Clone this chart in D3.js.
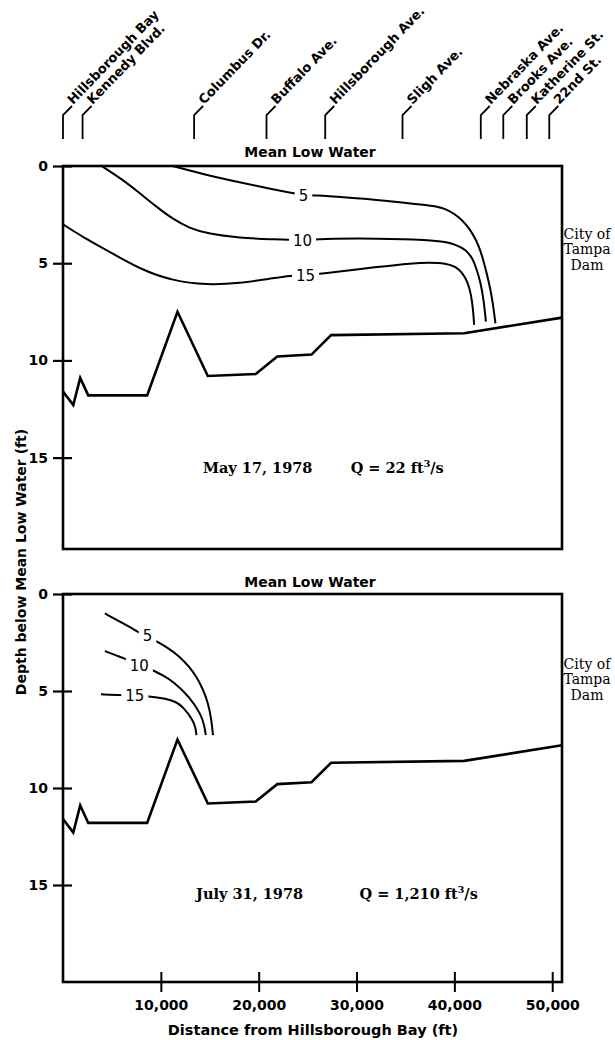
<!DOCTYPE html>
<html>
<head>
<meta charset="utf-8">
<script src="https://cdn.jsdelivr.net/npm/d3@7"></script>
<style>
  body { margin: 0; background: #fff; }
  svg { display: block; }
</style>
</head>
<body>
<svg id="chart" width="615" height="1040"></svg>
<script>
// Street crossings along the river (distance from Hillsborough Bay, ft)
const streetNames = ["Hillsborough Bay", "Kennedy Blvd.", "Columbus Dr.", "Buffalo Ave.",
  "Hillsborough Ave.", "Sligh Ave.", "Nebraska Ave.", "Brooks Ave.", "Katherine St.", "22nd St."];
const streetDistance = [0, 2000, 13400, 20800, 26800, 34700, 42700, 45000, 47400, 49700];

// Axis ticks
const depthTicks = [0, 5, 10, 15];
const distanceTicks = [10000, 20000, 30000, 40000, 50000];

// Channel bottom profile: [distance ft, depth ft]
const channelBottom = [[0, 11.6], [1050, 12.3], [1760, 10.9], [2580, 11.8], [8600, 11.8],
  [11700, 7.5], [14800, 10.8], [19700, 10.7], [21900, 9.8], [25400, 9.7], [27400, 8.7],
  [41000, 8.6], [51000, 7.8]];

// Salinity isolines, May 17, 1978: [distance ft, depth ft]
const may5 = [[11200, 0], [14650, 0.46], [18050, 0.84], [21450, 1.2], [23200, 1.37], [24580, 1.5],
  [25600, 1.5], [29000, 1.62], [32300, 1.75], [35500, 1.92], [37500, 2.03], [38700, 2.13],
  [39600, 2.33], [40400, 2.6], [41200, 3.0], [41900, 3.5], [42500, 4.1], [43000, 4.9],
  [43500, 5.9], [43900, 6.9], [44200, 8.1]];
const may10 = [[3950, 0], [6150, 0.72], [7850, 1.4], [9560, 2.1], [11250, 2.74], [12950, 3.2],
  [14650, 3.46], [18050, 3.7], [21450, 3.77], [24480, 3.84], [26200, 3.74], [32300, 3.72],
  [37400, 3.8], [39140, 3.9], [40160, 4.06], [41180, 4.3], [41850, 4.75], [42200, 5.2],
  [42700, 6.0], [43040, 7.06], [43220, 8.0]];
const may15 = [[0, 3.0], [2070, 3.67], [4450, 4.32], [7850, 5.31], [11250, 5.91], [14650, 6.12],
  [18050, 6.03], [21450, 5.77], [23300, 5.64], [24790, 5.62], [26200, 5.55], [32300, 5.18],
  [35700, 5.0], [37400, 4.97], [39140, 5.0], [40160, 5.18], [40830, 5.5], [41340, 5.95],
  [41690, 6.55], [41920, 7.4], [42020, 8.17]];

// Salinity isolines, July 31, 1978
const jul5 = [[4280, 1.0], [5800, 1.42], [7340, 1.86], [8640, 2.2], [9620, 2.46], [10800, 2.8],
  [11930, 3.23], [12900, 3.75], [13640, 4.26], [14300, 4.9], [14820, 5.6], [15150, 6.4], [15330, 7.27]];
const jul10 = [[4280, 2.94], [5500, 3.18], [6660, 3.4], [7800, 3.7], [9150, 3.9], [10200, 4.2],
  [11250, 4.5], [12950, 5.3], [14150, 6.24], [14450, 6.8], [14590, 7.27]];
const jul15 = [[3880, 5.17], [5990, 5.2], [7340, 5.26], [8700, 5.26], [10580, 5.4], [11500, 5.55],
  [12270, 5.81], [13290, 6.5], [13550, 6.9], [13640, 7.27]];

// Isoline label values and positions [distance ft, depth ft]
const isolineValues = ["5", "10", "15"];
const mayLabelAt = [[24580, 1.54], [24480, 3.86], [24790, 5.66]];
const julLabelAt = [[8640, 2.16], [7800, 3.7], [7340, 5.26]];

// Survey annotations
const surveyDates = ["May 17, 1978", "July 31, 1978"];
const surveyFlow = ["22", "1,210"];

const svg = d3.select("#chart");
svg.append("rect").attr("width", 615).attr("height", 1040).attr("fill", "#fff");

const sans = "'DejaVu Sans', Verdana, sans-serif";
const serif = "'DejaVu Serif', 'Liberation Serif', serif";

const x = d3.scaleLinear().domain([0, 51000]).range([63, 562]);

// Panel frames
const frames = [
  { top: 166, bottom: 549, maxDepth: 19.7, contours: [may5, may10, may15], labels: mayLabelAt,
    datePos: [14300, 15.8], flowPos: [29400, 15.8], damDepth: 3.75 },
  { top: 594, bottom: 982, maxDepth: 20, contours: [jul5, jul10, jul15], labels: julLabelAt,
    datePos: [13600, 15.7], flowPos: [30300, 15.7], damDepth: 3.85 }
];

// Street markers across the top
const streets = svg.append("g").attr("class", "streets");
streetNames.forEach((name, i) => {
  const sx = x(streetDistance[i]);
  const g = streets.append("g").attr("transform", `translate(${sx},0)`);
  g.append("path")
    .attr("d", d3.line()([[0, 139], [0, 115], [9, 106]]))
    .attr("fill", "none").attr("stroke", "#000").attr("stroke-width", 1.8);
  g.append("text")
    .attr("transform", "translate(10,105) rotate(-46)")
    .attr("font-family", sans).attr("font-weight", "bold").attr("font-size", 13)
    .attr("fill", "#000")
    .text(name);
});

frames.forEach((f, pi) => {
  const y = d3.scaleLinear().domain([0, f.maxDepth]).range([f.top, f.bottom]);
  const g = svg.append("g");

  const line = d3.line()
    .x(d => x(d[0])).y(d => y(d[1]))
    .curve(d3.curveBasis);

  // Isolines
  g.selectAll(".iso").data(f.contours).join("path")
    .attr("class", "iso")
    .attr("d", line)
    .attr("fill", "none").attr("stroke", "#000").attr("stroke-width", 2);

  // Isoline labels with a white gap behind them
  f.labels.forEach((p, k) => {
    const lg = g.append("g");
    const t = lg.append("text")
      .attr("x", x(p[0])).attr("y", y(p[1]))
      .attr("dy", "0.36em")
      .attr("text-anchor", "middle")
      .attr("font-family", sans).attr("font-size", 15)
      .attr("fill", "#000")
      .text(isolineValues[k]);
    const bb = t.node().getBBox();
    lg.insert("rect", "text")
      .attr("x", bb.x - 4).attr("y", bb.y + 1)
      .attr("width", bb.width + 8).attr("height", bb.height - 2)
      .attr("fill", "#fff");
  });

  // Channel bottom
  g.append("path")
    .attr("d", d3.line().x(d => x(d[0])).y(d => y(d[1]))(channelBottom))
    .attr("fill", "none").attr("stroke", "#000").attr("stroke-width", 2.6)
    .attr("stroke-linejoin", "miter");

  // Frame
  g.append("rect")
    .attr("x", x(0)).attr("y", f.top)
    .attr("width", x(51000) - x(0)).attr("height", f.bottom - f.top)
    .attr("fill", "none").attr("stroke", "#000").attr("stroke-width", 2.6);

  // Depth axis
  const ya = g.append("g")
    .attr("transform", `translate(${x(0)},0)`)
    .call(d3.axisLeft(y).tickValues(depthTicks).tickSize(10).tickPadding(5));
  ya.select(".domain").remove();
  ya.selectAll(".tick line").attr("x1", 9).attr("stroke-width", 2.2);
  ya.selectAll(".tick text")
    .attr("font-family", sans).attr("font-weight", "bold").attr("font-size", 14).attr("fill", "#000");

  // Reference level label
  g.append("text")
    .attr("x", 310).attr("y", f.top - (pi === 0 ? 9 : 7))
    .attr("text-anchor", "middle")
    .attr("font-family", sans).attr("font-weight", "bold").attr("font-size", 14)
    .text("Mean Low Water");

  // Dam label at the upstream end
  const dam = g.append("text")
    .attr("x", x(51000) + 25).attr("y", y(f.damDepth))
    .attr("text-anchor", "middle")
    .attr("font-family", serif).attr("font-size", 14);
  ["City of", "Tampa", "Dam"].forEach((s, k) => {
    dam.append("tspan").attr("x", x(51000) + 25).attr("dy", k === 0 ? 0 : 15.5).text(s);
  });

  // Survey date and discharge
  g.append("text")
    .attr("x", x(f.datePos[0])).attr("y", y(f.datePos[1]))
    .attr("font-family", serif).attr("font-weight", "bold").attr("font-size", 14.5)
    .text(surveyDates[pi]);
  const q = g.append("text")
    .attr("x", x(f.flowPos[0])).attr("y", y(f.flowPos[1]))
    .attr("font-family", serif).attr("font-weight", "bold").attr("font-size", 14.5);
  q.append("tspan").text(`Q = ${surveyFlow[pi]} ft`);
  q.append("tspan").attr("font-size", 9.5).attr("dy", -6).text("3");
  q.append("tspan").attr("dy", 6).text("/s");

  // Distance axis on the lower panel only
  if (pi === 1) {
    const xa = g.append("g")
      .attr("transform", `translate(0,${f.bottom})`)
      .call(d3.axisBottom(x).tickValues(distanceTicks).tickFormat(d3.format(","))
        .tickSize(10).tickPadding(8));
    xa.select(".domain").remove();
    xa.selectAll(".tick line").attr("y1", -10).attr("stroke-width", 2);
    xa.selectAll(".tick text")
      .attr("font-family", sans).attr("font-weight", "bold").attr("font-size", 14).attr("fill", "#000");
  }
});

// Axis titles
svg.append("text")
  .attr("x", 313).attr("y", 1035)
  .attr("text-anchor", "middle")
  .attr("font-family", sans).attr("font-weight", "bold").attr("font-size", 14.5)
  .text("Distance from Hillsborough Bay (ft)");
svg.append("text")
  .attr("transform", "translate(26,562) rotate(-90)")
  .attr("text-anchor", "middle")
  .attr("font-family", sans).attr("font-weight", "bold").attr("font-size", 14)
  .text("Depth below Mean Low Water (ft)");
</script>
</body>
</html>
